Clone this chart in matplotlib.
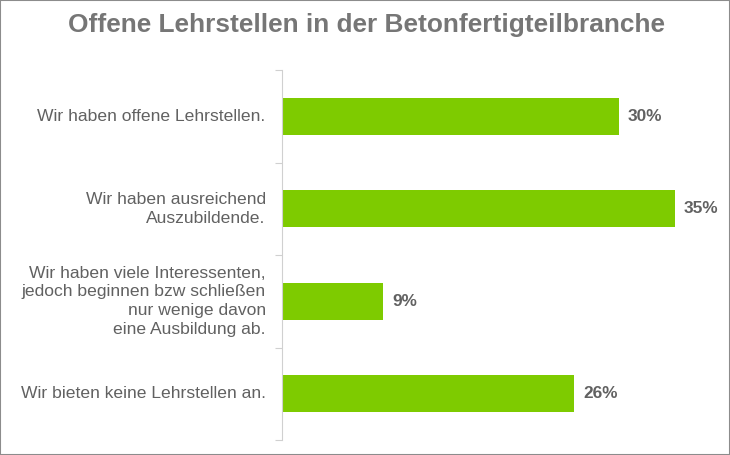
import matplotlib
matplotlib.use("Agg")
import matplotlib.pyplot as plt
from matplotlib.patches import Rectangle

plt.rcParams['font.family'] = ['Liberation Sans', 'DejaVu Sans']

title = "Offene Lehrstellen in der Betonfertigteilbranche"
categories = [
    "Wir haben offene Lehrstellen.",
    "Wir haben ausreichend\nAuszubildende.",
    "Wir haben viele Interessenten,\njedoch beginnen bzw schließen\nnur wenige davon\neine Ausbildung ab.",
    "Wir bieten keine Lehrstellen an.",
]
values = [30, 35, 9, 26]

green = '#7ecb00'
gray_text = '#616161'
gray_title = '#767676'
axis_col = '#d0d0d0'

W, H = 730, 455
fig = plt.figure(figsize=(W / 100, H / 100), dpi=100)

# axes: left edge at x=282 px, plot area from y=70 to y=440 px
ax = fig.add_axes([282 / W, (H - 440) / H, (715 - 282) / W, (440 - 70) / H])

pos = list(range(len(categories)))
ax.barh(pos, values, height=0.4, color=green, zorder=2)
ax.set_ylim(len(categories) - 0.5, -0.5)
ax.set_xlim(0, 38.56)

for p, v in zip(pos, values):
    ax.text(v + 0.8, p, f"{v}%", va='center', ha='left', fontsize=12.4,
            fontweight='bold', color=gray_text)

for p, lab in zip(pos, categories):
    ax.text(-1.45, p, lab, va='center', ha='right', fontsize=12.6,
            color=gray_text, multialignment='right', linespacing=1.3)

ax.set_yticks([-0.5, 0.5, 1.5, 2.5, 3.5])
ax.set_yticklabels([])
ax.tick_params(axis='y', length=5, color=axis_col, direction='out')
ax.set_xticks([])
for s in ['top', 'right', 'bottom']:
    ax.spines[s].set_visible(False)
ax.spines['left'].set_color(axis_col)

fig.text(367 / W, 1 - 25 / H, title, ha='center', va='center', fontsize=18.9,
         fontweight='bold', color=gray_title)

# outer frame
fig.patches.append(Rectangle((0, 0), 1, 1, transform=fig.transFigure,
                             fill=False, edgecolor='#8c8c8c', linewidth=1.5))

fig.savefig('out.png', dpi=100)
